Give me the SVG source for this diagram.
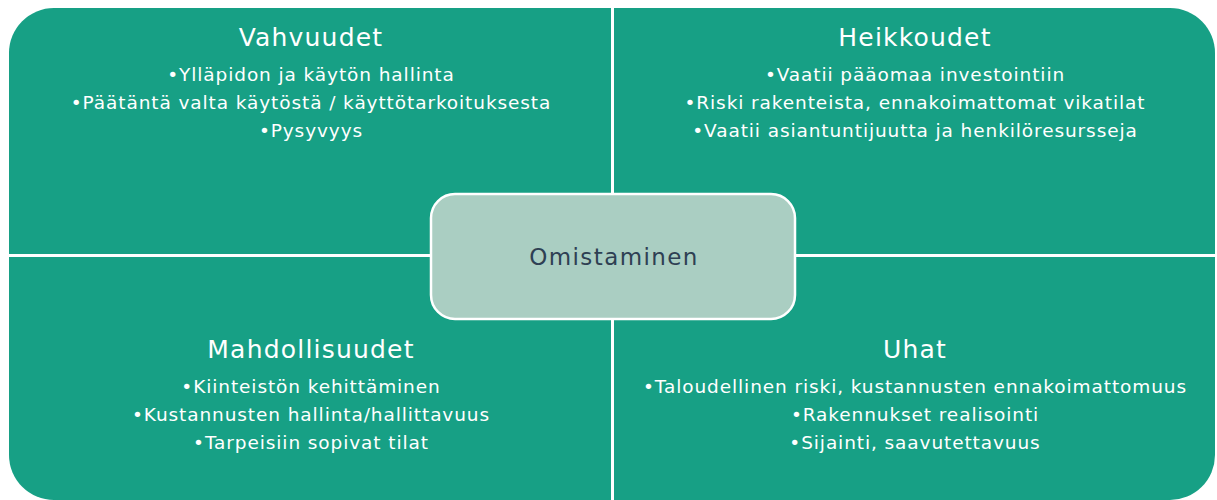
<svg xmlns="http://www.w3.org/2000/svg" width="1217" height="500" viewBox="0 0 1217 500">
<style>
.q{fill:#17a085}
.t{font-family:"DejaVu Sans","Liberation Sans",sans-serif;fill:#ffffff;text-anchor:middle}
.h{font-size:25px;letter-spacing:1.2px}
.b{font-size:18.5px;letter-spacing:0.9px}
.c{font-family:"DejaVu Sans","Liberation Sans",sans-serif;fill:#2e4053;font-size:23px;letter-spacing:1.4px;text-anchor:middle}
</style>
<rect width="1217" height="500" fill="#ffffff"/>
<g id="vahvuudet">
<path class="q" d="M9,53 A45,45 0 0 1 54,8 L611,8 L611,254 L9,254 Z"/>
<text class="t h" x="311" y="46">Vahvuudet</text>
<text class="t b" x="311" y="81">•Ylläpidon ja käytön hallinta</text>
<text class="t b" x="311" y="109">•Päätäntä valta käytöstä / käyttötarkoituksesta</text>
<text class="t b" x="311" y="137">•Pysyvyys</text>
</g>
<g id="heikkoudet">
<path class="q" d="M614,8 L1170,8 A45,45 0 0 1 1215,53 L1215,254 L614,254 Z"/>
<text class="t h" x="915" y="46">Heikkoudet</text>
<text class="t b" x="915" y="81">•Vaatii pääomaa investointiin</text>
<text class="t b" x="915" y="109">•Riski rakenteista, ennakoimattomat vikatilat</text>
<text class="t b" x="915" y="137">•Vaatii asiantuntijuutta ja henkilöresursseja</text>
</g>
<g id="mahdollisuudet">
<path class="q" d="M9,257 L611,257 L611,500 L54,500 A45,45 0 0 1 9,455 Z"/>
<text class="t h" x="311" y="358">Mahdollisuudet</text>
<text class="t b" x="311" y="393">•Kiinteistön kehittäminen</text>
<text class="t b" x="311" y="421">•Kustannusten hallinta/hallittavuus</text>
<text class="t b" x="311" y="449">•Tarpeisiin sopivat tilat</text>
</g>
<g id="uhat">
<path class="q" d="M614,257 L1215,257 L1215,455 A45,45 0 0 1 1170,500 L614,500 Z"/>
<text class="t h" x="915" y="358">Uhat</text>
<text class="t b" x="915" y="393">•Taloudellinen riski, kustannusten ennakoimattomuus</text>
<text class="t b" x="915" y="421">•Rakennukset realisointi</text>
<text class="t b" x="915" y="449">•Sijainti, saavutettavuus</text>
</g>
<g id="connectors"></g>
<g id="omistaminen">
<rect x="431" y="194" width="364" height="125" rx="24" fill="#aacec2" stroke="#ffffff" stroke-width="2.5"/>
<text class="c" x="614" y="265">Omistaminen</text>
</g>
</svg>
